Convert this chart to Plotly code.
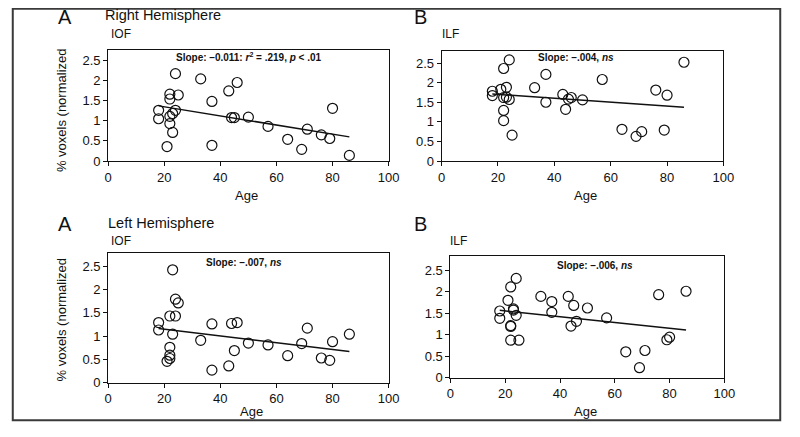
import plotly.graph_objects as go

# ---------------- data ----------------
ages = [18, 18, 21, 22, 22, 22, 22, 23, 23, 24, 24, 25, 33, 37, 37, 43, 44, 45, 46,
        50, 57, 64, 69, 71, 76, 79, 80, 86]

right_iof = [1.26, 1.05, 0.36, 1.66, 1.54, 1.11, 0.93, 1.18, 0.71, 2.17, 1.26, 1.64,
             2.04, 1.48, 0.39, 1.74, 1.08, 1.08, 1.95, 1.09, 0.86, 0.54, 0.29, 0.79,
             0.65, 0.56, 1.31, 0.14]
right_ilf = [1.78, 1.67, 1.83, 2.36, 1.62, 1.29, 1.03, 1.88, 1.63, 2.58, 1.57, 0.66,
             1.87, 2.21, 1.50, 1.70, 1.32, 1.58, 1.62, 1.56, 2.08, 0.81, 0.63, 0.75,
             1.81, 0.79, 1.68, 2.52]
left_iof = [1.29, 1.13, 0.46, 1.43, 0.76, 0.59, 0.52, 2.42, 1.04, 1.79, 1.43, 1.71,
            0.91, 1.26, 0.27, 0.36, 1.27, 0.69, 1.29, 0.85, 0.81, 0.58, 0.84, 1.17,
            0.53, 0.48, 0.88, 1.04]
left_ilf = [1.55, 1.38, 1.80, 2.11, 1.21, 1.19, 0.87, 1.60, 1.57, 2.31, 1.45, 0.87,
            1.89, 1.77, 1.52, 1.89, 1.20, 1.68, 1.31, 1.62, 1.39, 0.60, 0.23, 0.63,
            1.93, 0.88, 0.94, 2.01]

fit_x = [18, 86]
fit_right_iof = [1.37, 0.60]
fit_right_ilf = [1.71, 1.37]
fit_left_iof = [1.16, 0.67]
fit_left_ilf = [1.565, 1.11]

slope_labels = [
    "Slope: \u20130.011: <i>r</i><sup>2</sup> = .219, <i>p</i> &lt; .01",
    "Slope: \u2013.004, <i>ns</i>",
    "Slope: \u2013.007, <i>ns</i>",
    "Slope: \u2013.006, <i>ns</i>",
]
x_ticks = [0, 20, 40, 60, 80, 100]
y_ticks = [0, 0.5, 1, 1.5, 2, 2.5]
x_title = "Age"
y_title = "% voxels (normalized"

# ---------------- layout helpers ----------------
# The page keeps the browser's default 8px body margin, so the figure is
# sized to fill the 800x437 window exactly and positions are page pixels.
PAGE_W, PAGE_H, OFF = 800, 437, 8
W, H = PAGE_W - 2 * OFF, PAGE_H - 2 * OFF
def px(x):
    return (x - OFF) / W
def py(y):
    return 1 - (y - OFF) / H

FONT = "Liberation Sans, Arial, sans-serif"
TXT = "#111111"

# panel pixel boxes on the page: (left, right, top, bottom, ymax)
panels = [
    (106, 392, 50.7, 164.0, 2.76),
    (446, 733.3, 51.7, 164.0, 2.81),
    (106, 392, 257.3, 390.0, 2.79),
    (455, 734.3, 261.3, 384.7, 2.82),
]
series = [right_iof, right_ilf, left_iof, left_ilf]
fits = [fit_right_iof, fit_right_ilf, fit_left_iof, fit_left_ilf]

fig = go.Figure()
for i, (yv, fy) in enumerate(zip(series, fits)):
    sfx = "" if i == 0 else str(i + 1)
    fig.add_trace(go.Scatter(
        x=ages, y=yv, mode="markers", xaxis="x" + sfx, yaxis="y" + sfx,
        marker=dict(symbol="circle-open", size=10, color="#111111",
                    line=dict(width=1.2, color="#111111")),
        showlegend=False, hoverinfo="x+y"))
    fig.add_trace(go.Scatter(
        x=fit_x, y=fy, mode="lines", xaxis="x" + sfx, yaxis="y" + sfx,
        line=dict(color="#111111", width=1.5), showlegend=False))

layout = dict(
    width=W, height=H, margin=dict(l=0, r=0, t=0, b=0),
    paper_bgcolor="white", plot_bgcolor="white",
    font=dict(family=FONT, color=TXT, size=13),
)
for i, (l, r, t, b, ymax) in enumerate(panels):
    sfx = "" if i == 0 else str(i + 1)
    layout["xaxis" + sfx] = dict(
        domain=[px(l), px(r)], range=[0, 100], anchor="y" + sfx,
        tickvals=x_ticks, ticks="outside", ticklen=4, tickcolor="#111111",
        showline=True, linecolor="#111111", linewidth=1, mirror=True,
        showgrid=False, zeroline=False, tickfont=dict(size=13, family=FONT, color=TXT))
    layout["yaxis" + sfx] = dict(
        domain=[py(b), py(t)], range=[0, ymax], anchor="x" + sfx,
        tickvals=y_ticks, ticks="outside", ticklen=4, tickcolor="#111111",
        showline=True, linecolor="#111111", linewidth=1, mirror=True,
        showgrid=False, zeroline=False, tickfont=dict(size=13, family=FONT, color=TXT))
fig.update_layout(**layout)

ann = []
def text(x, y, s, size, xanchor="left", bold=False, angle=0):
    ann.append(dict(x=px(x), y=py(y), xref="paper", yref="paper", text=s,
                    showarrow=False, xanchor=xanchor, yanchor="middle",
                    textangle=angle,
                    font=dict(size=size, family=FONT, color=TXT,
                              weight="bold" if bold else "normal")))

# panel letters and headings
text(53, 17, "A", 20)
text(101, 15, "Right Hemisphere", 14.5)
text(107, 35, "IOF", 12)
text(416, 17, "B", 20)
text(444, 34, "ILF", 12)
text(53, 228, "A", 20)
text(104, 227, "Left Hemisphere", 14.5)
text(107, 246, "IOF", 12)
text(416, 228, "B", 20)
text(453, 246, "ILF", 12)

# slope annotations
slope_pos = [(249.5, 57.5), (583.3, 58.3), (245, 267.3), (602.5, 270.7)]
for (x, y), s in zip(slope_pos, slope_labels):
    text(x, y, s, 10, xanchor="center", bold=True)

# axis titles
for x, y in [(247, 199), (592.7, 199), (252, 419.5), (592.7, 419.5)]:
    text(x, y, x_title, 13, xanchor="center")
for x, y in [(58, 112), (58, 325.5)]:
    text(x, y, y_title, 13, xanchor="center", angle=-90)

# outer frame
fig.update_layout(annotations=ann, shapes=[dict(
    type="rect", xref="paper", yref="paper", x0=0.001, x1=0.999, y0=0.002, y1=0.998,
    line=dict(color="#3a3a3a", width=2), fillcolor="rgba(0,0,0,0)")])

fig.write_html("out.html", config={"displayModeBar": False})
